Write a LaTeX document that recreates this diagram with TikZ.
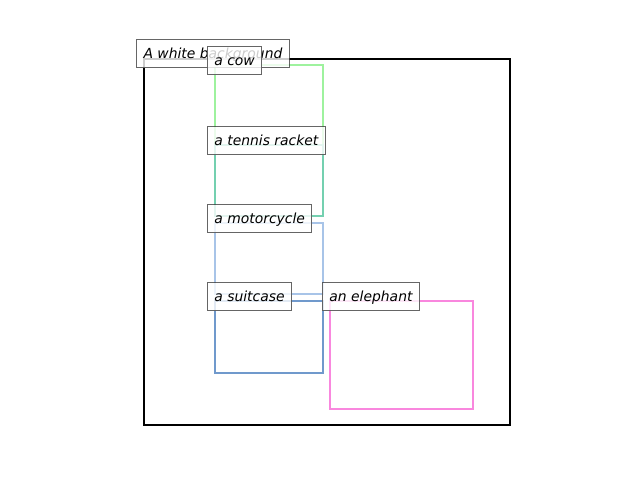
\documentclass[tikz,border=0pt]{standalone}
\usepackage{fontspec}
\setsansfont{DejaVu Sans}
\usetikzlibrary{positioning}
\definecolor{cowgreen}{HTML}{9EF29E}
\definecolor{racketteal}{HTML}{74D0B0}
\definecolor{motoblue}{HTML}{A8C4E8}
\definecolor{suitcaseblue}{HTML}{7099CC}
\definecolor{elephantpink}{HTML}{F987DE}
\tikzset{
  Region/.style={draw=black, line width=2pt, inner sep=0pt, minimum width=366pt, minimum height=366pt},
  Box/.style={draw=#1, line width=2.2pt, inner sep=0pt},
  Tag/.style={anchor=west, draw=black!75, draw opacity=0.8, fill=white, fill opacity=0.8, text opacity=1,
    line width=1pt, inner xsep=7pt, inner ysep=6.5pt, text height=12.5pt, text depth=2.5pt,
    font=\fontsize{13.9}{16}\selectfont\sffamily\itshape}
}

\begin{document}
\begin{tikzpicture}[x=1pt,y=-1pt]
	\useasboundingbox (0,0) rectangle (640,480);
	\node[Region] (frame) at (327,242) {};
	\node[Box=cowgreen, minimum width=108pt, minimum height=80pt] (cow) at (269,105) {};
	\node[Box=racketteal, minimum width=108pt, minimum height=71pt] (racket) at (269,180.5) {};
	\node[Box=motoblue, minimum width=108pt, minimum height=71pt] (moto) at (269,258.5) {};
	\node[Box=suitcaseblue, minimum width=108pt, minimum height=72pt] (suitcase) at (269,337) {};
	\node[Box=elephantpink, minimum width=143pt, minimum height=108pt] (elephant) at (401.5,355) {};
	\node[Tag] (frametag) at ([xshift=-7pt,yshift=4.5pt]frame.north west) {A white background};
	\node[Tag] (cowtag) at ([xshift=-7pt,yshift=3pt]cow.north west) {a cow};
	\node[Tag] (rackettag) at ([xshift=-7pt,yshift=3pt]racket.north west) {a tennis racket};
	\node[Tag] (mototag) at ([xshift=-7pt,yshift=3pt]moto.north west) {a motorcycle};
	\node[Tag] (suitcasetag) at ([xshift=-7pt,yshift=3pt]suitcase.north west) {a suitcase};
	\node[Tag] (elephanttag) at ([xshift=-7pt,yshift=3pt]elephant.north west) {an elephant};
\end{tikzpicture}
\end{document}
